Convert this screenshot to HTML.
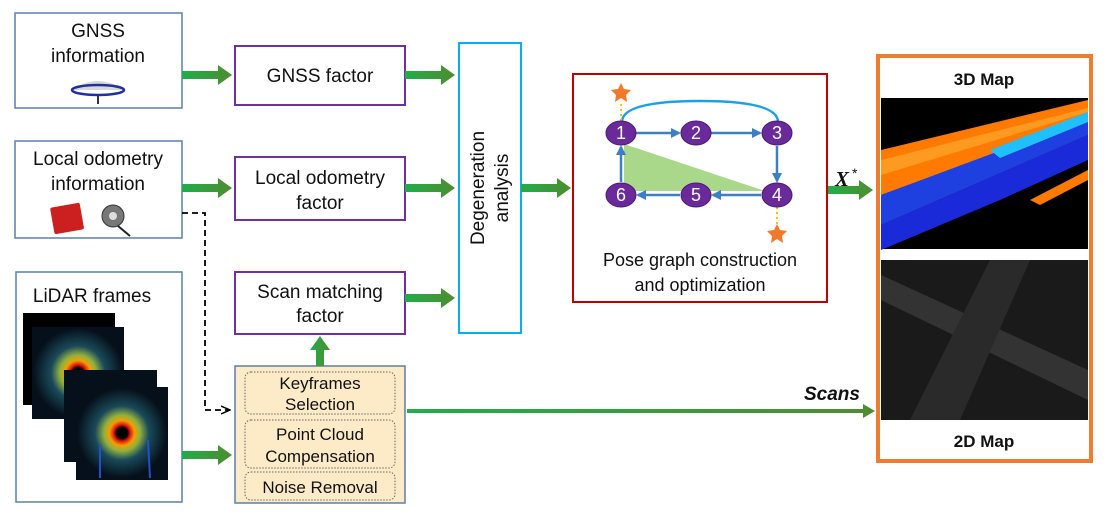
<!DOCTYPE html>
<html><head><meta charset="utf-8"><style>
html,body{margin:0;padding:0;background:#fff;}
svg{display:block;font-family:"Liberation Sans",Arial,sans-serif;}
</style></head><body>
<svg width="1107" height="518" viewBox="0 0 1107 518" xmlns="http://www.w3.org/2000/svg">
<defs>
<linearGradient id="ga" x1="0" x2="1"><stop offset="0" stop-color="#1fae4a"/><stop offset="1" stop-color="#4f8c30"/></linearGradient>
<radialGradient id="ring" cx="0.5" cy="0.5" r="0.5">
<stop offset="0.12" stop-color="#000"/><stop offset="0.18" stop-color="#e01010"/><stop offset="0.28" stop-color="#f0a000"/><stop offset="0.4" stop-color="#90b040"/><stop offset="0.6" stop-color="#1a4a5a"/><stop offset="1" stop-color="#05101a"/></radialGradient>
<clipPath id="c1"><rect x="32" y="327" width="92" height="92"/></clipPath>
<clipPath id="c2"><rect x="76" y="387" width="92" height="93"/></clipPath>
<marker id="ah" markerWidth="10" markerHeight="10" refX="8" refY="5" orient="auto" markerUnits="userSpaceOnUse"><path d="M0,0 L10,5 L0,10 Z" fill="#3b7fc4"/></marker>
<marker id="dh" markerWidth="10" markerHeight="10" refX="9" refY="5" orient="auto" markerUnits="userSpaceOnUse"><path d="M0,1 L9,5 L0,9" fill="none" stroke="#000" stroke-width="1.5"/></marker>
</defs>
<g stroke="#5b7fad" stroke-width="1.5" fill="#fff">
<rect x="15" y="13" width="167" height="95"/>
<rect x="15" y="141" width="167" height="97"/>
<rect x="16" y="272" width="166" height="230"/>
</g>
<g font-size="19" fill="#111" text-anchor="middle">
<text x="98" y="37">GNSS</text><text x="98" y="62">information</text>
<text x="98" y="165">Local odometry</text><text x="98" y="190">information</text>
<text x="92" y="302">LiDAR frames</text>
</g>
<path d="M72,90 Q98,72 124,90 Z" fill="#d8d8d8"/>
<ellipse cx="98" cy="90" rx="26" ry="5" fill="none" stroke="#2030a0" stroke-width="2.5"/>
<line x1="98" y1="95" x2="98" y2="104" stroke="#333" stroke-width="2"/>
<rect x="52" y="205" width="30" height="27" fill="#cc2020" rx="2" transform="rotate(-10 67 218)"/>
<circle cx="113" cy="216" r="11" fill="#777" stroke="#333"/>
<circle cx="113" cy="216" r="4" fill="#ddd"/>
<line x1="118" y1="226" x2="130" y2="236" stroke="#222" stroke-width="2"/>
<rect x="23" y="313" width="92" height="92" fill="#000"/>
<rect x="32" y="327" width="92" height="92" fill="#05101a"/>
<circle cx="78" cy="373" r="45" fill="url(#ring)" clip-path="url(#c1)"/>
<rect x="64" y="370" width="93" height="92" fill="#05101a"/>
<rect x="76" y="387" width="92" height="93" fill="#05101a"/>
<circle cx="122" cy="433" r="45" fill="url(#ring)" clip-path="url(#c2)"/>
<g stroke="#2050d0" stroke-width="2"><line x1="100" y1="445" x2="100" y2="478"/><line x1="148" y1="440" x2="150" y2="478"/></g>
<g stroke="#7030a0" stroke-width="2" fill="#fff">
<rect x="235" y="46" width="170" height="59"/>
<rect x="235" y="157" width="170" height="63"/>
<rect x="235" y="272" width="170" height="62"/>
</g>
<g font-size="19" fill="#111" text-anchor="middle">
<text x="320" y="82">GNSS factor</text>
<text x="320" y="184">Local odometry</text><text x="320" y="209">factor</text>
<text x="320" y="298">Scan matching</text><text x="320" y="322">factor</text>
</g>
<rect x="459" y="43" width="62" height="290" fill="#fff" stroke="#00b0f0" stroke-width="2"/>
<text transform="translate(484,188) rotate(-90)" font-size="19" text-anchor="middle" fill="#111">Degeneration</text>
<text transform="translate(508,188) rotate(-90)" font-size="19" text-anchor="middle" fill="#111">analysis</text>
<rect x="235" y="366" width="170" height="137" fill="#fdebc8" stroke="#5b7fad" stroke-width="1.5"/>
<g fill="none" stroke="#666" stroke-width="1" stroke-dasharray="1.5,1.5">
<rect x="245" y="372" width="150" height="42" rx="6"/>
<rect x="245" y="420" width="150" height="48" rx="6"/>
<rect x="245" y="472" width="150" height="28" rx="6"/>
</g>
<g font-size="17" fill="#111" text-anchor="middle">
<text x="320" y="389">Keyframes</text><text x="320" y="410">Selection</text>
<text x="320" y="440">Point Cloud</text><text x="320" y="462">Compensation</text>
<text x="320" y="493">Noise Removal</text>
</g>
<g fill="url(#ga)">
<path d="M182,71 h36 v-6 l14,10 l-14,10 v-6 h-36z"/>
<path d="M405,71 h36 v-6 l14,10 l-14,10 v-6 h-36z"/>
<path d="M182,184 h36 v-6 l14,10 l-14,10 v-6 h-36z"/>
<path d="M405,184 h36 v-6 l14,10 l-14,10 v-6 h-36z"/>
<path d="M405,294 h36 v-6 l14,10 l-14,10 v-6 h-36z"/>
<path d="M521,184 h36 v-6 l14,10 l-14,10 v-6 h-36z"/>
<path d="M828,186 h31 v-6 l14,10 l-14,10 v-6 h-31z"/>
<path d="M182,451 h36 v-6 l14,10 l-14,10 v-6 h-36z"/>
<path d="M316,366 v-16 h-6 l10,-14 l10,14 h-6 v16z"/>
<path d="M407,409 h456 v-5 l12,7 l-12,7 v-5 h-456z"/>
</g>
<path d="M182,213 H205 V410 H230" fill="none" stroke="#000" stroke-width="1.8" stroke-dasharray="6,4" marker-end="url(#dh)"/>
<text x="804" y="400" font-size="19" font-weight="bold" font-style="italic" fill="#111">Scans</text>
<text x="835" y="186" font-size="21" font-weight="bold" font-style="italic" font-family="Liberation Serif,serif" fill="#111">X</text>
<text x="852" y="178" font-size="14" fill="#111">*</text>
<rect x="573" y="74" width="254" height="228" fill="#fff" stroke="#c00000" stroke-width="2"/>
<polygon points="624,144 765,191 624,191" fill="#a9d88a"/>
<path d="M622,122 Q622,101 700,101 Q778,101 778,122" fill="none" stroke="#1aa0e6" stroke-width="2.5"/>
<g stroke="#3b7fc4" stroke-width="2.5" fill="none">
<line x1="636" y1="133" x2="679" y2="133" marker-end="url(#ah)"/>
<line x1="711" y1="133" x2="760" y2="133" marker-end="url(#ah)"/>
<line x1="777" y1="146" x2="777" y2="181" marker-end="url(#ah)"/>
<line x1="761" y1="195" x2="713" y2="195" marker-end="url(#ah)"/>
<line x1="680" y1="195" x2="638" y2="195" marker-end="url(#ah)"/>
<line x1="621" y1="182" x2="621" y2="147" marker-end="url(#ah)"/>
</g>
<g stroke="#ffc000" stroke-width="2" stroke-dasharray="2,3"><line x1="621" y1="104" x2="621" y2="121"/><line x1="777" y1="207" x2="777" y2="226"/></g>
<g fill="#f07a2a"><polygon points="621,83 624,89 631,90 626,95 627,102 621,98 615,102 616,95 611,90 618,89"/><polygon points="777,224 780,230 787,231 782,236 783,243 777,239 771,243 772,236 767,231 774,230"/></g>
<g fill="#6a2a9a" stroke="#4a1a7a"><ellipse cx="621" cy="133" rx="15" ry="12"/><ellipse cx="696" cy="133" rx="15" ry="12"/><ellipse cx="777" cy="133" rx="15" ry="12"/><ellipse cx="777" cy="195" rx="15" ry="12"/><ellipse cx="696" cy="195" rx="15" ry="12"/><ellipse cx="621" cy="195" rx="15" ry="12"/></g>
<g fill="#fff" font-size="18" text-anchor="middle"><text x="621" y="139">1</text><text x="696" y="139">2</text><text x="777" y="139">3</text><text x="777" y="201">4</text><text x="696" y="201">5</text><text x="621" y="201">6</text></g>
<g font-size="18" fill="#111" text-anchor="middle"><text x="700" y="266">Pose graph construction</text><text x="700" y="291">and optimization</text></g>
<rect x="878" y="56" width="213" height="405" fill="#fff" stroke="#ed7d31" stroke-width="4"/>
<rect x="881" y="98" width="207" height="151" fill="#000"/>
<polygon points="881,225 1088,135 1088,160 1000,200 881,250" fill="#1a2ad8"/>
<polygon points="881,150 1088,100 1088,120 881,195" fill="#ff7a00"/>
<polygon points="881,195 1088,118 1088,135 881,225" fill="#1e40e0"/>
<polygon points="881,160 1088,108 1088,112 881,175" fill="#ff9a20"/>
<polygon points="990,150 1088,112 1088,122 1000,158" fill="#20c0ff"/>
<polygon points="1030,200 1088,170 1088,180 1040,205" fill="#ff7a00"/>
<rect x="881" y="260" width="207" height="160" fill="#1a1a1a"/>
<polygon points="881,300 1088,400 1088,370 881,275" fill="#333"/>
<polygon points="990,260 1030,260 960,420 910,420" fill="#2a2a2a"/>
<g font-size="17" font-weight="bold" text-anchor="middle" fill="#111"><text x="984" y="85">3D Map</text><text x="984" y="447">2D Map</text></g>
</svg>
</body></html>
